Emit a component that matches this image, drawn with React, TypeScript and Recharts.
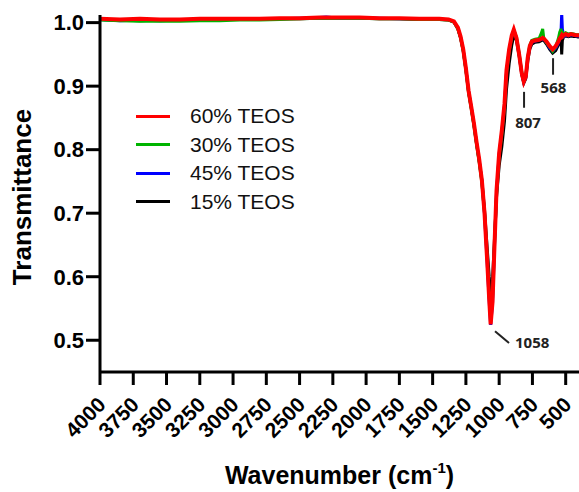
import { LineChart, Line, XAxis, YAxis, Legend, ReferenceLine, ReferenceDot } from "recharts";

const wavenumbers = [
  4000, 3850, 3700, 3550, 3400, 3250, 3100, 2950, 2800, 2650,
  2500, 2350, 2300, 2200, 2050, 1900, 1750, 1600, 1450, 1380,
  1340, 1310, 1290, 1270, 1250, 1230, 1210, 1190, 1170, 1150,
  1130, 1110, 1090, 1075, 1064, 1050, 1035, 1020, 1000, 980,
  960, 945, 925, 905, 890, 870, 850, 830, 815, 800,
  785, 770, 755, 730, 700, 680, 673, 665, 643, 620,
  598, 575, 555, 545, 535, 530, 525, 515, 500, 480,
  460, 440, 420, 400,
];

const teos60 = [
  1.006, 1.005, 1.006, 1.005, 1.005, 1.006, 1.006, 1.006, 1.006, 1.007,
  1.007, 1.008, 1.008, 1.008, 1.008, 1.007, 1.007, 1.006, 1.006, 1.005,
  1.002, 0.992, 0.978, 0.958, 0.928, 0.893, 0.868, 0.842, 0.812, 0.785,
  0.752, 0.700, 0.625, 0.565, 0.525, 0.560, 0.650, 0.735, 0.795, 0.830,
  0.872, 0.925, 0.958, 0.980, 0.989, 0.976, 0.950, 0.920, 0.907, 0.915,
  0.945, 0.963, 0.970, 0.972, 0.973, 0.975, 0.976, 0.975, 0.970, 0.963,
  0.958, 0.963, 0.970, 0.975, 0.978, 0.980, 0.978, 0.980, 0.982, 0.980,
  0.982, 0.981, 0.980, 0.980,
];

const teos30 = [
  1.004, 1.003, 1.002, 1.002, 1.002, 1.003, 1.003, 1.004, 1.004, 1.005,
  1.006, 1.007, 1.007, 1.007, 1.007, 1.006, 1.006, 1.005, 1.005, 1.004,
  1.001, 0.990, 0.976, 0.955, 0.925, 0.890, 0.865, 0.838, 0.808, 0.780,
  0.748, 0.700, 0.630, 0.570, 0.535, 0.565, 0.652, 0.730, 0.790, 0.825,
  0.868, 0.920, 0.955, 0.978, 0.988, 0.977, 0.952, 0.922, 0.908, 0.916,
  0.946, 0.964, 0.972, 0.974, 0.975, 0.985, 0.990, 0.976, 0.968, 0.962,
  0.955, 0.962, 0.975, 0.985, 0.990, 0.975, 0.985, 0.982, 0.984, 0.982,
  0.983, 0.982, 0.981, 0.981,
];

const teos45 = [
  1.005, 1.003, 1.004, 1.003, 1.004, 1.005, 1.005, 1.005, 1.006, 1.006,
  1.007, 1.008, 1.009, 1.007, 1.008, 1.007, 1.006, 1.006, 1.005, 1.005,
  1.001, 0.991, 0.977, 0.957, 0.927, 0.892, 0.867, 0.840, 0.810, 0.783,
  0.750, 0.698, 0.622, 0.562, 0.524, 0.558, 0.648, 0.733, 0.793, 0.828,
  0.870, 0.922, 0.956, 0.979, 0.988, 0.975, 0.950, 0.920, 0.906, 0.914,
  0.944, 0.962, 0.969, 0.971, 0.972, 0.974, 0.975, 0.974, 0.968, 0.960,
  0.955, 0.960, 0.968, 0.975, 0.985, 1.015, 0.990, 0.978, 0.980, 0.979,
  0.981, 0.980, 0.979, 0.979,
];

const teos15 = [
  1.005, 1.004, 1.003, 1.004, 1.004, 1.005, 1.005, 1.005, 1.006, 1.006,
  1.006, 1.007, 1.007, 1.007, 1.007, 1.006, 1.006, 1.005, 1.005, 1.004,
  1.001, 0.990, 0.976, 0.956, 0.926, 0.891, 0.866, 0.840, 0.810, 0.782,
  0.752, 0.705, 0.645, 0.600, 0.575, 0.595, 0.660, 0.725, 0.775, 0.805,
  0.845, 0.895, 0.935, 0.965, 0.980, 0.972, 0.948, 0.918, 0.905, 0.912,
  0.940, 0.958, 0.966, 0.969, 0.970, 0.972, 0.973, 0.972, 0.966, 0.958,
  0.952, 0.956, 0.965, 0.972, 0.975, 0.950, 0.972, 0.978, 0.979, 0.978,
  0.979, 0.978, 0.978, 0.977,
];

const xTicks = [4000, 3750, 3500, 3250, 3000, 2750, 2500, 2250, 2000, 1750, 1500, 1250, 1000, 750, 500];
const yTicks = [0.5, 0.6, 0.7, 0.8, 0.9, 1.0];

const legendItems = [
  { name: "60% TEOS", color: "#ff0000" },
  { name: "30% TEOS", color: "#00b400" },
  { name: "45% TEOS", color: "#0000ff" },
  { name: "15% TEOS", color: "#000000" },
];

const data = wavenumbers.map((wn, i) => ({
  wn,
  t60: teos60[i],
  t30: teos30[i],
  t45: teos45[i],
  t15: teos15[i],
}));

const ARIAL = "'Liberation Sans', Arial, sans-serif";
const NOTE = "'Open Sans', sans-serif";

const XTick = ({ x, y, payload }: any) => (
  <text
    transform={`translate(${x + 7},${y + 19}) rotate(-45)`}
    textAnchor="end"
    fontFamily={ARIAL}
    fontWeight={700}
    fontSize={21}
    fill="#000"
  >
    {payload.value}
  </text>
);

const LegendBox = () => (
  <div style={{ fontFamily: ARIAL, fontSize: 21, color: "#111" }}>
    {legendItems.map((it) => (
      <div key={it.name} style={{ display: "flex", alignItems: "center", height: 28.5 }}>
        <div style={{ width: 34, height: 3, background: it.color, marginRight: 20 }} />
        <span>{it.name}</span>
      </div>
    ))}
  </div>
);

const noteLabel = (text: string, anchor: "start" | "middle") => (props: any) => {
  const { viewBox } = props;
  return (
    <text
      x={viewBox.x}
      y={viewBox.y}
      dy={5}
      textAnchor={anchor}
      fontFamily={NOTE}
      fontWeight={700}
      fontSize={15}
      fill="#222"
    >
      {text}
    </text>
  );
};

export default function App() {
  return (
    <div style={{ position: "absolute", left: 0, top: 0, width: 579, height: 492, background: "#fff" }}>
      <LineChart width={579} height={492} data={data} margin={{ top: 15, right: 0, left: 0, bottom: 0 }}>
        <XAxis
          dataKey="wn"
          type="number"
          domain={[400, 4000]}
          reversed
          allowDataOverflow
          ticks={xTicks}
          interval={0}
          height={120}
          stroke="#000"
          strokeWidth={3}
          tickSize={13}
          tick={<XTick />}
          label={(props: any) => {
            const vb = props.viewBox;
            return (
              <text
                x={vb.x + vb.width / 2}
                y={484}
                textAnchor="middle"
                fontFamily={ARIAL}
                fontWeight={700}
                fontSize={25}
                fill="#000"
              >
                Wavenumber (cm
                <tspan fontSize={15} dy={-11}>-1</tspan>
                <tspan dy={11}>)</tspan>
              </text>
            );
          }}
        />
        <YAxis
          type="number"
          domain={[0.45, 1.012]}
          allowDataOverflow
          ticks={yTicks}
          width={100}
          stroke="#000"
          strokeWidth={3}
          tickSize={14}
          tickFormatter={(v: number) => v.toFixed(1)}
          tick={{ fill: "#000", fontFamily: ARIAL, fontWeight: 700, fontSize: 22 }}
          label={() => (
            <text
              transform="translate(31,197) rotate(-90)"
              textAnchor="middle"
              fontFamily={ARIAL}
              fontWeight={700}
              fontSize={26}
              fill="#000"
            >
              Transmittance
            </text>
          )}
        />
        <Legend
          layout="horizontal"
          verticalAlign="middle"
          align="center"
          content={<LegendBox />}
          wrapperStyle={{ position: "absolute", left: 136, top: 102, width: 200, height: 120 }}
        />
        <Line dataKey="t15" stroke="#000000" strokeWidth={3} dot={false} isAnimationActive={false} />
        <Line dataKey="t45" stroke="#0000ff" strokeWidth={3} dot={false} isAnimationActive={false} />
        <Line dataKey="t30" stroke="#00b400" strokeWidth={3} dot={false} isAnimationActive={false} />
        <Line dataKey="t60" stroke="#ff0000" strokeWidth={4} dot={false} isAnimationActive={false} />
        <ReferenceLine segment={[{ x: 1031, y: 0.514 }, { x: 926, y: 0.4955 }]} stroke="#222" strokeWidth={2} />
        <ReferenceLine segment={[{ x: 813, y: 0.891 }, { x: 813, y: 0.866 }]} stroke="#222" strokeWidth={2} />
        <ReferenceLine segment={[{ x: 595, y: 0.944 }, { x: 595, y: 0.918 }]} stroke="#222" strokeWidth={2} />
        <ReferenceDot x={881} y={0.495} r={0} fill="none" stroke="none" label={noteLabel("1058", "start")} />
        <ReferenceDot x={783} y={0.842} r={0} fill="none" stroke="none" label={noteLabel("807", "middle")} />
        <ReferenceDot x={592} y={0.897} r={0} fill="none" stroke="none" label={noteLabel("568", "middle")} />
      </LineChart>
    </div>
  );
}
